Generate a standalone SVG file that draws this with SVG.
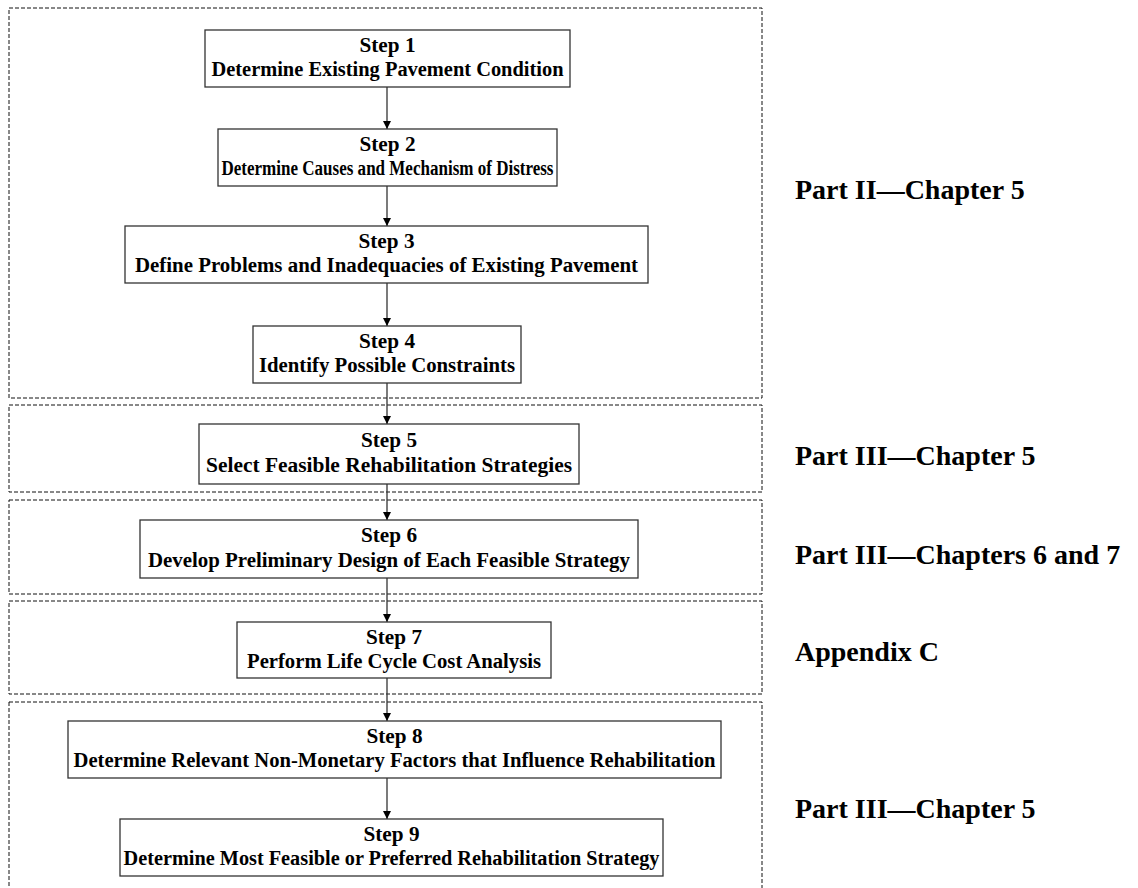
<svg xmlns="http://www.w3.org/2000/svg" width="1138" height="888" viewBox="0 0 1138 888">
<defs>
<style>
.sec{fill:none;stroke:#111;stroke-width:1;stroke-dasharray:4,2}
.box{fill:#fff;stroke:#333;stroke-width:1.3}
.t{font-family:"Liberation Serif","Times New Roman",serif;font-weight:bold;font-size:20px;fill:#000;text-anchor:middle}
.lab{font-family:"Liberation Serif","Times New Roman",serif;font-weight:bold;font-size:28px;fill:#000}
.con{stroke:#333;stroke-width:1.3;fill:none;marker-end:url(#ah)}
</style>
<marker id="ah" viewBox="0 0 10 10" refX="10" refY="5" markerWidth="9" markerHeight="8" markerUnits="userSpaceOnUse" orient="auto">
<path d="M0,0 L10,5 L0,10 z" fill="#000"/>
</marker>
</defs>
<rect width="1138" height="888" fill="#fff"/>
<g id="sections">
<rect class="sec" x="9" y="8" width="753" height="390"/>
<rect class="sec" x="9" y="405" width="753" height="87"/>
<rect class="sec" x="9" y="500" width="753" height="94"/>
<rect class="sec" x="9" y="601" width="753" height="93"/>
<rect class="sec" x="9" y="702" width="753" height="200"/>
</g>
<g id="connectors">
<line class="con" x1="387" y1="87" x2="387" y2="129"/>
<line class="con" x1="387" y1="186" x2="387" y2="226"/>
<line class="con" x1="387" y1="283" x2="387" y2="326"/>
<line class="con" x1="387" y1="383" x2="387" y2="424"/>
<line class="con" x1="387" y1="484" x2="387" y2="520"/>
<line class="con" x1="387" y1="578" x2="387" y2="622"/>
<line class="con" x1="387" y1="678" x2="387" y2="721"/>
<line class="con" x1="387" y1="778" x2="387" y2="819"/>
</g>
<g id="step1">
<rect class="box" x="205" y="30" width="365" height="57"/>
<text class="t" x="387.5" y="52" textLength="56" lengthAdjust="spacingAndGlyphs">Step 1</text>
<text class="t" x="387.5" y="76" textLength="352" lengthAdjust="spacingAndGlyphs">Determine Existing Pavement Condition</text>
</g>
<g id="step2">
<rect class="box" x="218" y="129" width="339" height="57"/>
<text class="t" x="387.5" y="151" textLength="56" lengthAdjust="spacingAndGlyphs">Step 2</text>
<text class="t" x="387.5" y="175" textLength="332" lengthAdjust="spacingAndGlyphs">Determine Causes and Mechanism of Distress</text>
</g>
<g id="step3">
<rect class="box" x="125" y="226" width="523" height="57"/>
<text class="t" x="386.5" y="248" textLength="56" lengthAdjust="spacingAndGlyphs">Step 3</text>
<text class="t" x="386.5" y="272" textLength="503" lengthAdjust="spacingAndGlyphs">Define Problems and Inadequacies of Existing Pavement</text>
</g>
<g id="step4">
<rect class="box" x="253" y="326" width="268" height="57"/>
<text class="t" x="387" y="348" textLength="56" lengthAdjust="spacingAndGlyphs">Step 4</text>
<text class="t" x="387" y="372" textLength="256" lengthAdjust="spacingAndGlyphs">Identify Possible Constraints</text>
</g>
<g id="step5">
<rect class="box" x="199" y="424" width="380" height="60"/>
<text class="t" x="389" y="447" textLength="56" lengthAdjust="spacingAndGlyphs">Step 5</text>
<text class="t" x="389" y="472" textLength="366" lengthAdjust="spacingAndGlyphs">Select Feasible Rehabilitation Strategies</text>
</g>
<g id="step6">
<rect class="box" x="140" y="520" width="498" height="58"/>
<text class="t" x="389" y="542" textLength="56" lengthAdjust="spacingAndGlyphs">Step 6</text>
<text class="t" x="389" y="567" textLength="482" lengthAdjust="spacingAndGlyphs">Develop Preliminary Design of Each Feasible Strategy</text>
</g>
<g id="step7">
<rect class="box" x="237" y="622" width="314" height="56"/>
<text class="t" x="394" y="644" textLength="56" lengthAdjust="spacingAndGlyphs">Step 7</text>
<text class="t" x="394" y="668" textLength="294" lengthAdjust="spacingAndGlyphs">Perform Life Cycle Cost Analysis</text>
</g>
<g id="step8">
<rect class="box" x="68" y="721" width="653" height="57"/>
<text class="t" x="394.5" y="743" textLength="56" lengthAdjust="spacingAndGlyphs">Step 8</text>
<text class="t" x="394.5" y="767" textLength="642" lengthAdjust="spacingAndGlyphs">Determine Relevant Non-Monetary Factors that Influence Rehabilitation</text>
</g>
<g id="step9">
<rect class="box" x="120" y="819" width="543" height="57"/>
<text class="t" x="391.5" y="841" textLength="56" lengthAdjust="spacingAndGlyphs">Step 9</text>
<text class="t" x="391.5" y="865" textLength="536" lengthAdjust="spacingAndGlyphs">Determine Most Feasible or Preferred Rehabilitation Strategy</text>
</g>
<g id="labels">
<text class="lab" x="795" y="199">Part II—Chapter 5</text>
<text class="lab" x="795" y="465">Part III—Chapter 5</text>
<text class="lab" x="795" y="564">Part III—Chapters 6 and 7</text>
<text class="lab" x="795" y="661">Appendix C</text>
<text class="lab" x="795" y="818">Part III—Chapter 5</text>
</g>
</svg>
